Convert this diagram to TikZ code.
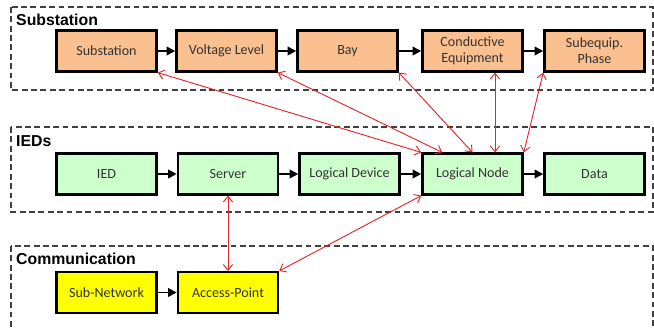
\documentclass[tikz,border=0pt]{standalone}
\usepackage{fontspec}
\setmainfont{Carlito}
\newfontfamily\headfont{Liberation Sans}
\usepackage{xcolor}
\usetikzlibrary{arrows.meta, positioning}

\definecolor{subfill}{RGB}{250,192,144}
\definecolor{iedfill}{RGB}{204,255,204}
\definecolor{comfill}{RGB}{255,255,0}
\definecolor{linkred}{RGB}{225,40,40}

\begin{document}
\begin{tikzpicture}[
      x=0.03cm, y=-0.03cm,
      block/.style={draw, line width=2.2pt, minimum width=3.0cm, minimum height=1.22cm, inner sep=1pt,
                    align=center, text=black!80, font=\fontsize{12}{13.5}\selectfont},
      subblock/.style={block, fill=subfill},
      iedblock/.style={block, fill=iedfill},
      comblock/.style={block, fill=comfill},
      group/.style={draw, dashed, line width=0.9pt, black!75, dash pattern=on 5pt off 3pt},
      grouplabel/.style={anchor=west, inner sep=0pt, font=\headfont\bfseries\fontsize{13.5}{15}\selectfont},
      arrow/.style={-{Triangle[length=2.6mm, width=2.6mm]}, line width=1.6pt},
      link/.style={{Straight Barb[length=1.7mm, width=2.8mm]}-{Straight Barb[length=1.7mm, width=2.8mm]}, linkred, line width=0.8pt}
      ]

    \useasboundingbox (0,0) rectangle (654,329);
    \clip (0,0) rectangle (654,329);

    % Groups
    \draw[group] (11,7) rectangle (653,90);
    \draw[group] (11,127) rectangle (653,212);
    \draw[group] (11,246) rectangle (653,340);
    \node[grouplabel] (lsub) at (16,20) {Substation};
    \node[grouplabel] (lied) at (16,141) {IEDs};
    \node[grouplabel] (lcom) at (16,259) {Communication};

    % Nodes
    \node[subblock] (sub) at (106.5,51) {Substation};
    \node[subblock] (vl) at (226.5,51) {Voltage Level};
    \node[subblock] (bay) at (347.5,51) {Bay};
    \node[subblock] (ce) at (472.5,51) {Conductive\\Equipment};
    \node[subblock] (ph) at (594.5,51) {Subequip.\\Phase};

    \node[iedblock] (ied) at (106.5,174) {IED};
    \node[iedblock] (srv) at (228,174) {Server};
    \node[iedblock] (ld) at (349.5,174) {Logical Device};
    \node[iedblock] (ln) at (472.5,174) {Logical Node};
    \node[iedblock] (data) at (594.5,174) {Data};

    \node[comblock] (sn) at (106.5,292.5) {Sub-Network};
    \node[comblock] (ap) at (228,292.5) {Access-Point};

    % Arrows
    \draw[arrow] (sub) -- (vl);
    \draw[arrow] (vl) -- (bay);
    \draw[arrow] (bay) -- (ce);
    \draw[arrow] (ce) -- (ph);
    \draw[arrow] (ied) -- (srv);
    \draw[arrow] (srv) -- (ld);
    \draw[arrow] (ld) -- (ln);
    \draw[arrow] (ln) -- (data);
    \draw[arrow] (sn) -- (ap);

    % Links
    \draw[link] (sub.south east) -- (ln.north west);
    \draw[link] (vl.south east) -- ([xshift=0.63cm]ln.north west);
    \draw[link] (bay.south east) -- (ln.north);
    \draw[link] ([xshift=0.675cm]ce.south) -- ([xshift=0.675cm]ln.north);
    \draw[link] (ph.south west) -- (ln.north east);
    \draw[link] (srv.south) -- (ap.north);
    \draw[link] (ln.south west) -- (ap.north east);

\end{tikzpicture}
\end{document}
